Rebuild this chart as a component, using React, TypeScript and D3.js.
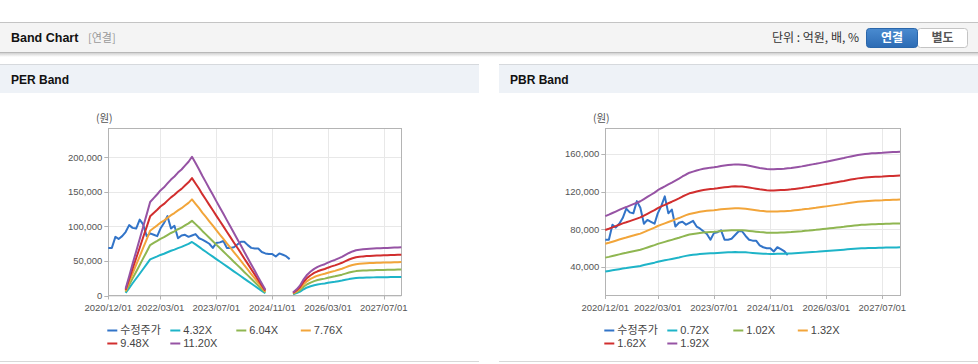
import React from "react";
import * as d3 from "d3";

// ---------- DATA ----------
const startMonth = new Date(2020, 11, 1); // 2020/12/01
const monthCount = 85; // through 2027/12/01

const xTickLabels = ["2020/12/01", "2022/03/01", "2023/07/01", "2024/11/01", "2026/03/01", "2027/07/01"];

// 수정주가 (adjusted price), monthly from 2020/12
const priceSeries: number[] = [
  69000, 69000, 85000, 82000, 86000, 92000, 102000, 98000, 97000, 110000,
  103000, 86000, 90000, 88000, 86000, 97000, 105000, 115000, 97000, 101000,
  83000, 87000, 88000, 85000, 87000, 89000, 83000, 81000, 78000, 75000,
  69000, 76000, 77000, 79000, 69000, 69000, 70000, 74000, 78000, 78000,
  73000, 69000, 68000, 68000, 63000, 61000, 60000, 60000, 56500, 61000,
  59000, 57000, 52700,
];

// EPS used for PER band (monthly, null = no value)
const perEps: (number | null)[] = [
  null, null, null, null, null, 870, 2500, 4100, 5700, 7300,
  8900, 10500, 12100, 12600, 13100, 13600, 14000, 14500, 15000, 15400,
  15900, 16300, 16800, 17300, 17950, 17130, 16310, 15490, 14670, 13850,
  13030, 12210, 11390, 10570, 9750, 8930, 8110, 7290, 6470, 5650,
  4830, 4010, 3190, 2370, 1550, 740, null, null, null, null,
  null, null, null, 400, 800, 1300, 2100, 2700, 3100, 3450,
  3700, 3900, 4050, 4250, 4450, 4600, 4800, 5000, 5250, 5500,
  5700, 5850, 5920, 5980, 6020, 6050, 6080, 6100, 6120, 6140,
  6160, 6180, 6200, 6220, 6240,
];
const perMultiples = [4.32, 6.04, 7.76, 9.48, 11.2];
const perLabels = ["수정주가", "4.32X", "6.04X", "7.76X", "9.48X", "11.20X"];
const perYTicks = [0, 50000, 100000, 150000, 200000];

// BPS used for PBR band (monthly)
const pbrBps: number[] = [
  49000, 49800, 50700, 51500, 52400, 53300, 54000, 54800, 55600, 56400,
  57200, 58400, 59600, 60800, 62000, 63300, 64400, 65400, 66500, 67500,
  68600, 69700, 70900, 72000, 73000, 73600, 74200, 74700, 75200, 75500,
  75800, 76000, 76300, 76700, 77000, 77200, 77400, 77600, 77500, 77400,
  77200, 76800, 76400, 76000, 75600, 75300, 75000, 74900, 74900, 75000,
  75100, 75200, 75400, 75600, 75900, 76200, 76500, 76900, 77200, 77600,
  77900, 78300, 78700, 79100, 79500, 79900, 80300, 80700, 81100, 81600,
  82000, 82400, 82800, 83100, 83300, 83500, 83700, 83800, 83900, 84000,
  84200, 84300, 84400, 84500, 84600,
];
const pbrMultiples = [0.72, 1.02, 1.32, 1.62, 1.92];
const pbrLabels = ["수정주가", "0.72X", "1.02X", "1.32X", "1.62X", "1.92X"];
const pbrYTicks = [40000, 80000, 120000, 160000];

const seriesColors = ["#3274c8", "#1eb4c8", "#8fb651", "#f2a53a", "#d12e2e", "#9653a4"];

// ---------- STYLE ----------
const FONT = '"Liberation Sans", Arial, "Noto Sans CJK KR", sans-serif';
const KFONT = '"Noto Sans CJK KR", "Liberation Sans", sans-serif';

const months = d3.range(monthCount).map((i) => d3.timeMonth.offset(startMonth, i));
const parseTick = d3.timeParse("%Y/%m/%d");

type ChartProps = {
  panelX: number;
  title: string;
  left: number;
  right: number;
  top: number;
  bottom: number;
  yDomain: [number, number];
  yTicks: number[];
  base: (number | null)[];
  multiples: number[];
  labels: string[];
};

function BandChart(p: ChartProps) {
  const x = d3.scaleTime().domain([months[0], months[monthCount - 1]]).range([p.left, p.right]);
  const y = d3.scaleLinear().domain(p.yDomain).range([p.bottom, p.top]);
  const fmt = d3.format(",");
  const line = d3
    .line<number | null>()
    .defined((d) => d != null)
    .x((_, i) => x(months[i]))
    .y((d) => y(d as number));

  const bandSeries = p.multiples.map((m) => p.base.map((b) => (b == null ? null : b * m)));
  const xTicks = xTickLabels.map((t) => parseTick(t) as Date);
  const legendOffsets = [0, 63, 129, 193.5];

  return (
    <g>
      {/* panel */}
      <rect x={p.panelX} y={64} width={479} height={298} fill="#ffffff" />
      <rect x={p.panelX} y={64} width={479} height={29} fill="#eef2f7" />
      <line x1={p.panelX} x2={p.panelX + 479} y1={64.5} y2={64.5} stroke="#d6d9dd" />
      <line x1={p.panelX} x2={p.panelX + 479} y1={361.5} y2={361.5} stroke="#d8d8d8" />
      <text x={p.panelX + 11} y={84} fontFamily={FONT} fontSize={12} fontWeight="bold" fill="#111">
        {p.title}
      </text>

      {/* grid */}
      {p.yTicks.map((t) => (
        <line key={"gy" + t} x1={p.left} x2={p.right} y1={Math.round(y(t)) + 0.5} y2={Math.round(y(t)) + 0.5} stroke="#e8e8e8" />
      ))}
      {xTicks.map((t, i) => (
        <line key={"gx" + i} x1={Math.round(x(t)) + 0.5} x2={Math.round(x(t)) + 0.5} y1={p.top} y2={p.bottom} stroke="#e8e8e8" />
      ))}

      {/* frame */}
      <rect x={Math.round(p.left) + 0.5} y={Math.round(p.top) + 0.5} width={Math.round(p.right - p.left)} height={Math.round(p.bottom - p.top)} fill="none" stroke="#b4b4b4" />
      {p.yTicks.map((t) => (
        <line key={"ty" + t} x1={p.left - 4} x2={p.left} y1={Math.round(y(t)) + 0.5} y2={Math.round(y(t)) + 0.5} stroke="#b4b4b4" />
      ))}
      {xTicks.map((t, i) => (
        <line key={"tx" + i} x1={Math.round(x(t)) + 0.5} x2={Math.round(x(t)) + 0.5} y1={p.bottom} y2={p.bottom + 4} stroke="#b4b4b4" />
      ))}

      {/* axis labels */}
      {p.yTicks.map((t) => (
        <text key={"ly" + t} x={p.left - 6} y={y(t)} dy="0.35em" textAnchor="end" fontFamily={FONT} fontSize={9.5} fill="#555">
          {fmt(t)}
        </text>
      ))}
      {xTicks.map((t, i) => (
        <text key={"lx" + i} x={x(t)} y={307.5} dy="0.35em" textAnchor="middle" fontFamily={FONT} fontSize={9.5} fill="#555">
          {xTickLabels[i]}
        </text>
      ))}
      <text x={p.left - 4} y={118} textAnchor="middle" dy="0.35em" fontFamily={KFONT} fontSize={10.5} fill="#555">
        (원)
      </text>

      {/* series */}
      <path d={line(priceSeries) || ""} fill="none" stroke={seriesColors[0]} strokeWidth={2} strokeLinejoin="round" />
      {bandSeries.map((s, i) => (
        <path key={"b" + i} d={line(s) || ""} fill="none" stroke={seriesColors[i + 1]} strokeWidth={2} strokeLinejoin="round" />
      ))}

      {/* legend */}
      {p.labels.map((lab, i) => {
        const lx = p.left - 1 + legendOffsets[i % 4];
        const ly = i < 4 ? 330.5 : 343.5;
        return (
          <g key={"lg" + i}>
            <line x1={lx} x2={lx + 10} y1={ly} y2={ly} stroke={seriesColors[i]} strokeWidth={2} />
            <text x={lx + 13} y={ly} dy="0.35em" fontFamily={FONT} fontSize={11} fill="#444">
              {lab}
            </text>
          </g>
        );
      })}
    </g>
  );
}

export default function App() {
  return (
    <svg
      width={978}
      height={364}
      style={{ position: "absolute", left: 0, top: 0, display: "block", background: "#fff" }}
    >
      <defs>
        <linearGradient id="hdrShadow" x1="0" y1="0" x2="0" y2="1">
          <stop offset="0" stopColor="#000" stopOpacity={0.18} />
          <stop offset="1" stopColor="#000" stopOpacity={0} />
        </linearGradient>
        <linearGradient id="btnBlue" x1="0" y1="0" x2="0" y2="1">
          <stop offset="0" stopColor="#4a8bd0" />
          <stop offset="1" stopColor="#2c6bb4" />
        </linearGradient>
      </defs>

      {/* header */}
      <rect x={0} y={22} width={978} height={31} fill="#f4f4f4" />
      <line x1={0} x2={978} y1={22.5} y2={22.5} stroke="#c4c4c4" />
      <line x1={0} x2={978} y1={52.5} y2={52.5} stroke="#b8b8b8" />
      <rect x={0} y={53} width={978} height={4} fill="url(#hdrShadow)" />
      <text x={11} y={42} fontFamily={FONT} fontSize={12.5} fontWeight="bold" fill="#111">
        Band Chart
      </text>
      <text x={88} y={42} fontFamily={KFONT} fontSize={11} fill="#999">
        [연결]
      </text>
      <text x={859} y={42} textAnchor="end" fontFamily={KFONT} fontSize={12} fill="#333">
        단위 : 억원, 배, %
      </text>
      <rect x={917.5} y={28.5} width={50} height={19} rx={3} fill="#fff" stroke="#c4c4c4" />
      <rect x={866.5} y={28.5} width={51} height={19} rx={3} fill="url(#btnBlue)" stroke="#2a66aa" />
      <text x={892} y={38} dy="0.35em" textAnchor="middle" fontFamily={KFONT} fontSize={12} fontWeight="bold" fill="#fff">
        연결
      </text>
      <text x={942.5} y={38} dy="0.35em" textAnchor="middle" fontFamily={KFONT} fontSize={12} fontWeight="bold" fill="#555">
        별도
      </text>

      <BandChart
        panelX={0}
        title="PER Band"
        left={108.3}
        right={401.3}
        top={128.3}
        bottom={295.5}
        yDomain={[0, 242300]}
        yTicks={perYTicks}
        base={perEps}
        multiples={perMultiples}
        labels={perLabels}
      />
      <BandChart
        panelX={499}
        title="PBR Band"
        left={605.3}
        right={900}
        top={128.3}
        bottom={295}
        yDomain={[10300, 187300]}
        yTicks={pbrYTicks}
        base={pbrBps}
        multiples={pbrMultiples}
        labels={pbrLabels}
      />
    </svg>
  );
}
